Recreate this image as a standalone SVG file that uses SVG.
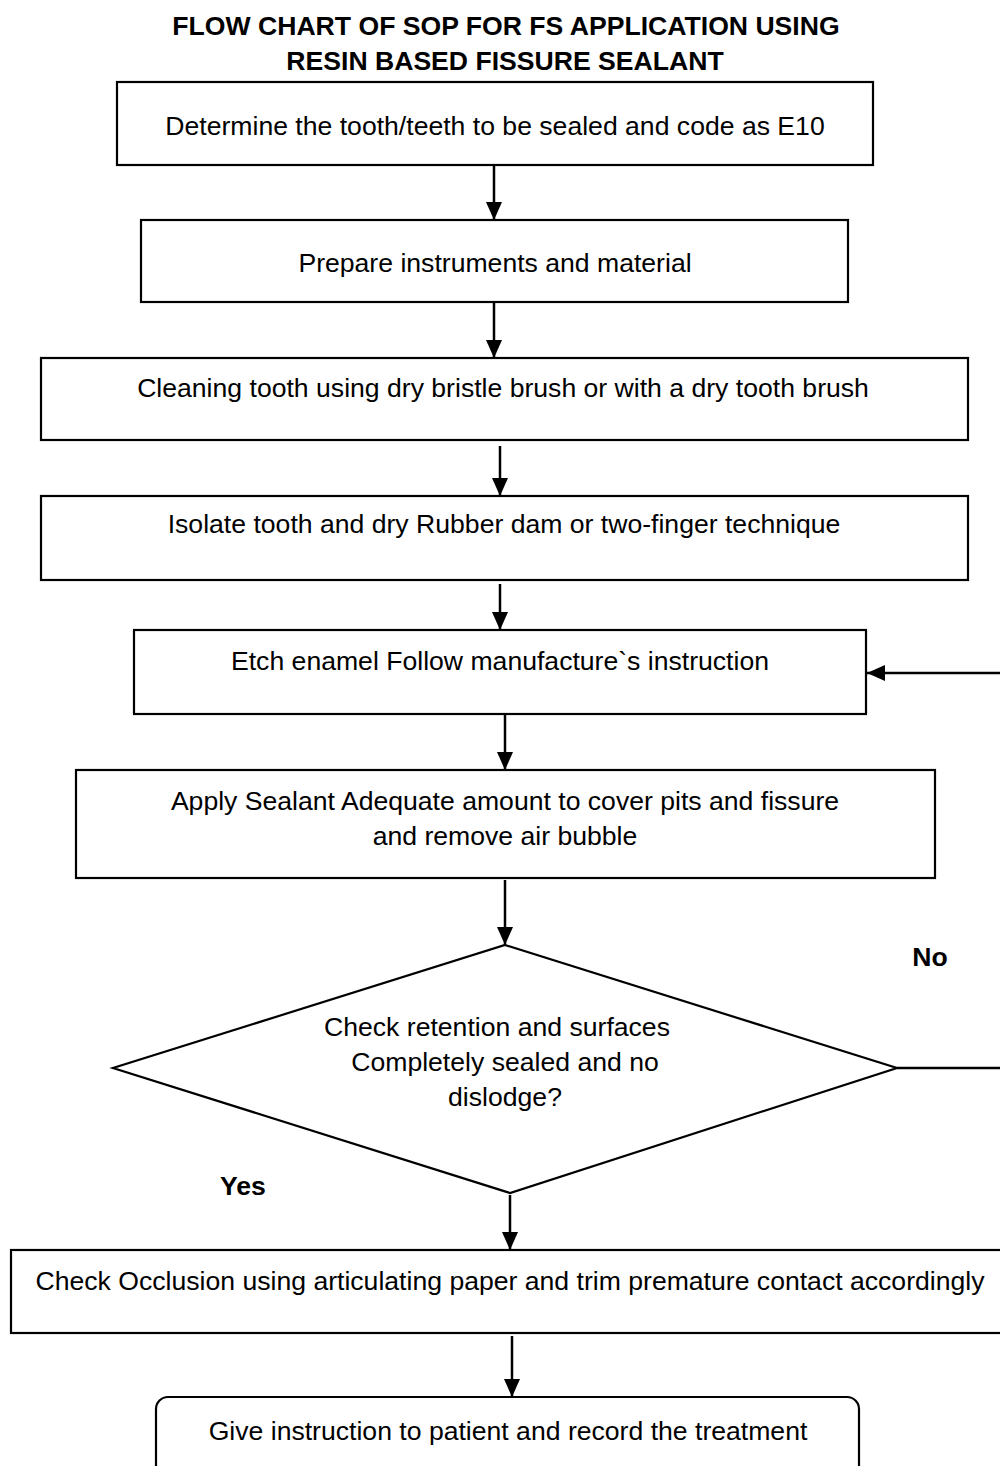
<svg xmlns="http://www.w3.org/2000/svg" width="1000" height="1466" viewBox="0 0 1000 1466">
  <style>
    .box { fill: #ffffff; stroke: #000000; stroke-width: 2.2; }
    .txt { font-family: "Liberation Sans", Arial, sans-serif; font-size: 26.6px; fill: #000000; text-anchor: middle; }
    .bold { font-weight: bold; }
    .wire { stroke: #000000; stroke-width: 2.5; fill: none; }
  </style>
  <defs>
    <marker id="arrow" markerUnits="userSpaceOnUse" markerWidth="18" markerHeight="18" refX="18" refY="9" orient="auto">
      <path d="M0,1 L18,9 L0,17 Z" fill="#000000"/>
    </marker>
  </defs>
  <rect width="1000" height="1466" fill="#ffffff"/>

  <g id="title">
    <text class="txt bold" x="506" y="35">FLOW CHART OF SOP FOR FS APPLICATION USING</text>
    <text class="txt bold" x="505" y="70">RESIN BASED FISSURE SEALANT</text>
  </g>

  <g id="determine">
    <rect class="box" x="117" y="82" width="756" height="83"/>
    <text class="txt" x="495" y="135">Determine the tooth/teeth to be sealed and code as E10</text>
  </g>

  <g id="prepare">
    <rect class="box" x="141" y="220" width="707" height="82"/>
    <text class="txt" x="495" y="272">Prepare instruments and material</text>
  </g>

  <g id="cleaning">
    <rect class="box" x="41" y="358" width="927" height="82"/>
    <text class="txt" x="503" y="397">Cleaning tooth using dry bristle brush or with a dry tooth brush</text>
  </g>

  <g id="isolate">
    <rect class="box" x="41" y="496" width="927" height="84"/>
    <text class="txt" x="504" y="533">Isolate tooth and dry Rubber dam or two-finger technique</text>
  </g>

  <g id="etch">
    <rect class="box" x="134" y="630" width="732" height="84"/>
    <text class="txt" x="500" y="670">Etch enamel Follow manufacture`s instruction</text>
  </g>

  <g id="apply">
    <rect class="box" x="76" y="770" width="859" height="108"/>
    <text class="txt" x="505" y="810">Apply Sealant Adequate amount to cover pits and fissure</text>
    <text class="txt" x="505" y="845">and remove air bubble</text>
  </g>

  <g id="check-retention">
    <polygon class="box" points="505,945 897,1068 510,1193 113,1068"/>
    <text class="txt" x="497" y="1036">Check retention and surfaces</text>
    <text class="txt" x="505" y="1071">Completely sealed and no</text>
    <text class="txt" x="505" y="1106">dislodge?</text>
  </g>

  <g id="occlusion">
    <rect class="box" x="11" y="1250" width="1000" height="83"/>
    <text class="txt" x="510" y="1290">Check Occlusion using articulating paper and trim premature contact accordingly</text>
  </g>

  <g id="record">
    <rect class="box" x="156" y="1397" width="703" height="90" rx="12" ry="12"/>
    <text class="txt" x="508" y="1440">Give instruction to patient and record the treatment</text>
  </g>

  <g id="labels">
    <text class="txt bold" x="930" y="966">No</text>
    <text class="txt bold" x="243" y="1195">Yes</text>
  </g>

  <g id="connectors">
    <line class="wire" x1="494" y1="166" x2="494" y2="220" marker-end="url(#arrow)"/>
    <line class="wire" x1="494" y1="303" x2="494" y2="358" marker-end="url(#arrow)"/>
    <line class="wire" x1="500" y1="446" x2="500" y2="496" marker-end="url(#arrow)"/>
    <line class="wire" x1="500" y1="584" x2="500" y2="630" marker-end="url(#arrow)"/>
    <line class="wire" x1="505" y1="715" x2="505" y2="770" marker-end="url(#arrow)"/>
    <line class="wire" x1="505" y1="880" x2="505" y2="945" marker-end="url(#arrow)"/>
    <line class="wire" x1="510" y1="1195" x2="510" y2="1250" marker-end="url(#arrow)"/>
    <line class="wire" x1="512" y1="1336" x2="512" y2="1397" marker-end="url(#arrow)"/>
    <line class="wire" x1="897" y1="1068" x2="1000" y2="1068"/>
    <line class="wire" x1="1000" y1="673" x2="867" y2="673" marker-end="url(#arrow)"/>
  </g>
</svg>
